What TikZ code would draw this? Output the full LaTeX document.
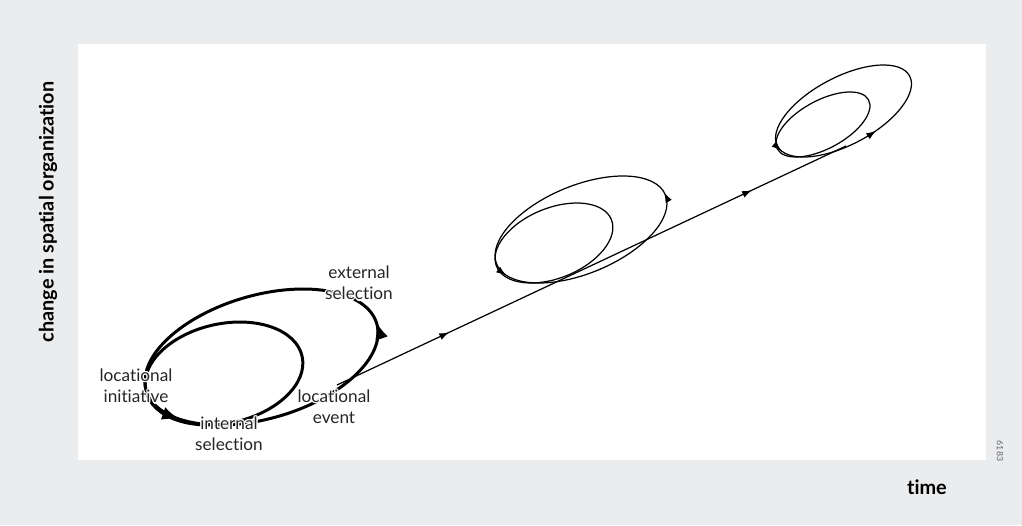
\documentclass[tikz,border=0pt]{standalone}
\usepackage{fontspec}
\setmainfont{Lato}[Ligatures=NoCommon]
\usetikzlibrary{arrows.meta,decorations.markings,calc}
\definecolor{panelgray}{RGB}{235,236,238}

% label with a white halo, drawn as offset copies below the text
\newcommand\halonode[3]{%
  \foreach \dx/\dy in {-0.7/0,0.7/0,0/-0.7,0/0.7,-0.5/-0.5,0.5/0.5,-0.5/0.5,0.5/-0.5}
    \node[lbl, text=white, xshift=\dx pt, yshift=\dy pt] at (#2) {#3};
  \node[lbl] (#1) at (#2) {#3};
}

% arrow tip on an ellipse: x radius, y radius, angle, tip style, tip length
\newcommand\looptip[5]{%
  \draw[#4] ($(#3:#1 and #2)!#5!(#3-2:#1 and #2)$) -- (#3:#1 and #2);
}

\begin{document}
\begin{tikzpicture}[x=0.02cm, y=0.02cm,
    lbl/.style={font=\fontsize{9.8}{12}\selectfont, align=center, text=black!85, inner sep=0pt},
    axislbl/.style={font=\bfseries\fontsize{11.3}{13}\selectfont, inner sep=0pt},
    bigloop/.style={line width=1.7pt},
    smallloop/.style={line width=0.7pt},
    bigtip/.style={line width=1.7pt, -{Latex[length=10pt,width=7.5pt]}},
    smalltip/.style={line width=0.7pt, -{Latex[length=5.5pt,width=4pt]}},
    linetip/.style={postaction=decorate, decoration={markings,
      mark=at position 0.22 with {\arrow{Latex[length=5.5pt,width=4pt]}},
      mark=at position 0.815 with {\arrow{Latex[length=5.5pt,width=4pt]}}}}]

  % panel
  \fill[panelgray] (0,0) rectangle (1022,-525);
  \fill[white] (78,-44) rectangle (986,-460);
  \useasboundingbox (0,0) rectangle (1022,-525);

  % loop centres
  \coordinate (lp1) at (261.5,-357);
  \coordinate (lp1in) at (224,-373.5);
  \coordinate (lp2) at (581,-229.5);
  \coordinate (lp2in) at (554,-243);
  \coordinate (lp3) at (843.5,-111);
  \coordinate (lp3in) at (823,-124.5);

  % the line of locational events
  \coordinate (ev1) at (337,-385);
  \coordinate (ev3) at (846,-146);
  \draw[smallloop, linetip] (ev1) -- (ev3);

  % first loop (thick)
  \begin{scope}[shift={(lp1)}, rotate=16.1]
    \draw[bigloop] (0,0) ellipse [x radius=120, y radius=61.7];
    \looptip{120}{61.7}{2}{bigtip}{10pt}
    \looptip{120}{61.7}{217}{bigtip}{10pt}
  \end{scope}
  \draw[bigloop, rotate around={12.3:(lp1in)}] (lp1in) ellipse [x radius=80, y radius=49.7];

  % second loop
  \begin{scope}[shift={(lp2)}, rotate=22.4]
    \draw[smallloop] (0,0) ellipse [x radius=91.2, y radius=44];
    \looptip{91.2}{44}{3}{smalltip}{5.5pt}
    \looptip{91.2}{44}{198}{smalltip}{5.5pt}
  \end{scope}
  \draw[smallloop, rotate around={22.2:(lp2in)}] (lp2in) ellipse [x radius=62, y radius=35];

  % third loop
  \begin{scope}[shift={(lp3)}, rotate=27.9]
    \draw[smallloop] (0,0) ellipse [x radius=74.8, y radius=33.8];
    \looptip{74.8}{33.8}{285}{smalltip}{5.5pt}
    \looptip{74.8}{33.8}{190}{smalltip}{5.5pt}
  \end{scope}
  \draw[smallloop, rotate around={28.4:(lp3in)}] (lp3in) ellipse [x radius=51.8, y radius=24.1];

  % labels
  \halonode{ext}{359,-283}{external\\selection}
  \halonode{init}{136,-386}{locational\\initiative}
  \halonode{int}{229,-434}{internal\\selection}
  \halonode{evt}{334,-407}{locational\\event}

  % axes
  \node[axislbl, rotate=90] (yaxis) at (48,-212) {change in spatial organization};
  \node[axislbl] (xaxis) at (927,-487) {time};
  \node[font=\fontsize{5}{6}\selectfont, text=black!60, rotate=-90, inner sep=0pt] (figno) at (1000,-451) {6183};
\end{tikzpicture}
\end{document}
